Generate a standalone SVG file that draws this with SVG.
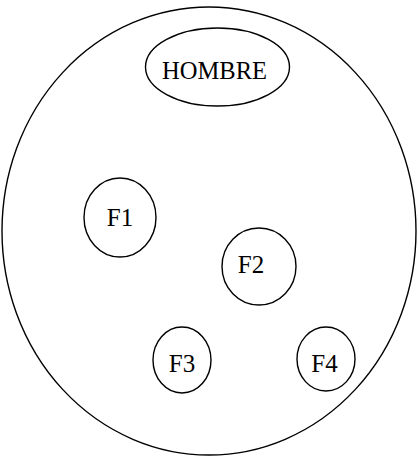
<svg xmlns="http://www.w3.org/2000/svg" width="418" height="456" viewBox="0 0 418 456">
<style>
.s{fill:none;stroke:#000;stroke-width:1.4}
.t{font-family:"Liberation Serif","Times New Roman",serif;font-size:25px;fill:#000;text-anchor:middle}
</style>
<rect width="418" height="456" fill="#fff"/>
<g id="outer"><ellipse class="s" cx="209" cy="231" rx="207" ry="224"/></g>
<g id="hombre"><ellipse class="s" cx="217.5" cy="67" rx="72" ry="39"/><text class="t" x="214.5" y="79" textLength="105" lengthAdjust="spacingAndGlyphs">HOMBRE</text></g>
<g id="f1"><ellipse class="s" cx="120" cy="217.5" rx="36" ry="39.5"/><text class="t" x="120" y="226">F1</text></g>
<g id="f2"><ellipse class="s" cx="259" cy="266.5" rx="37" ry="38.5"/><text class="t" x="251" y="273">F2</text></g>
<g id="f3"><ellipse class="s" cx="182" cy="360" rx="29" ry="33"/><text class="t" x="182" y="372">F3</text></g>
<g id="f4"><ellipse class="s" cx="326" cy="359" rx="29" ry="32"/><text class="t" x="324.5" y="372">F4</text></g>
<g id="connectors"/>
</svg>
